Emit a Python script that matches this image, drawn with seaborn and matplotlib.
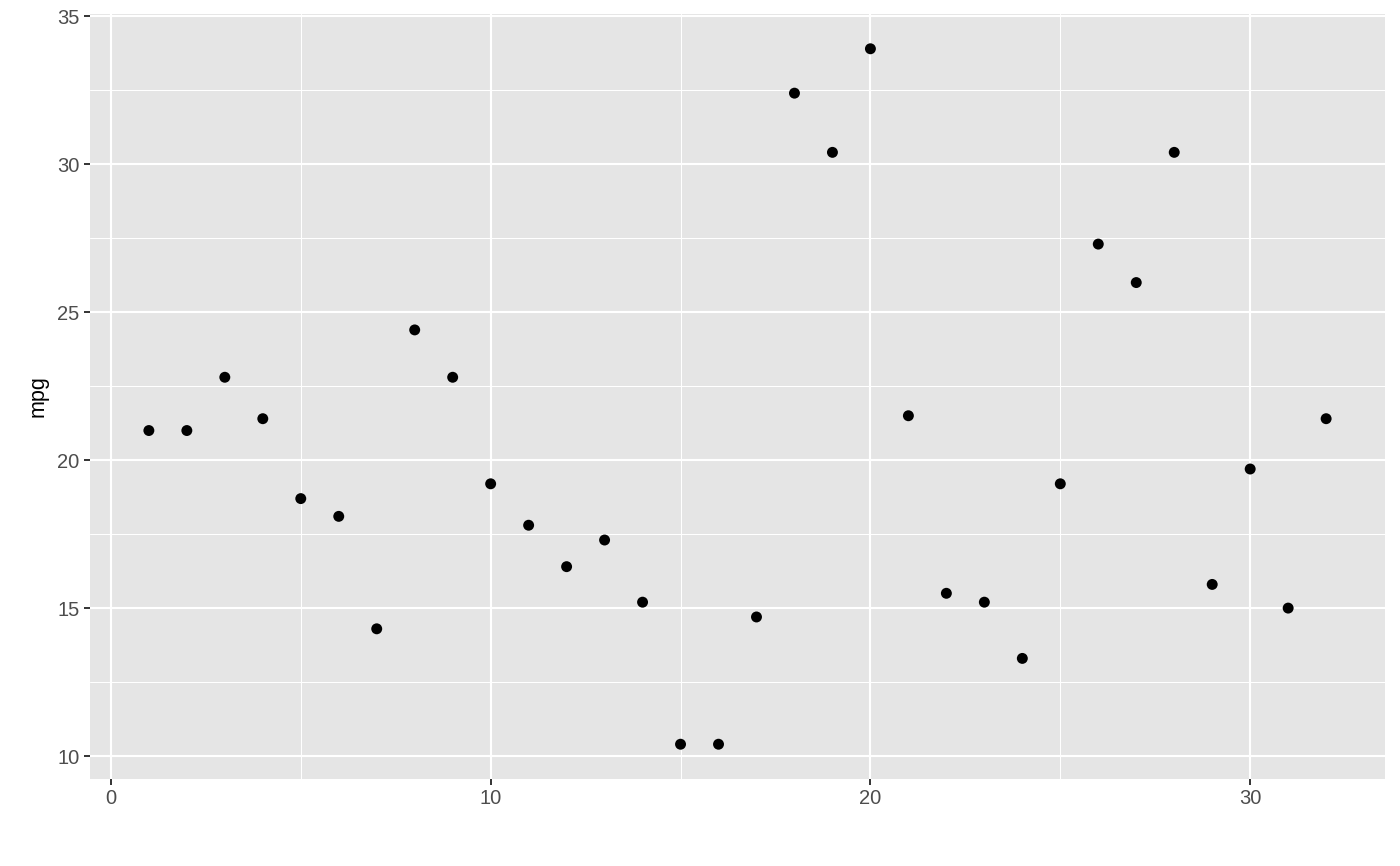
import matplotlib
matplotlib.use("Agg")
import matplotlib.pyplot as plt
from matplotlib.ticker import MultipleLocator
import seaborn as sns
import pandas as pd

# mtcars mpg, plotted against row index
idx = list(range(1, 33))
mpg = [21.0, 21.0, 22.8, 21.4, 18.7, 18.1, 14.3, 24.4, 22.8, 19.2, 17.8, 16.4,
       17.3, 15.2, 10.4, 10.4, 14.7, 32.4, 30.4, 33.9, 21.5, 15.5, 15.2, 13.3,
       19.2, 27.3, 26.0, 30.4, 15.8, 19.7, 15.0, 21.4]
df = pd.DataFrame({"idx": idx, "mpg": mpg})

sns.set_style("darkgrid", {"axes.facecolor": "#E5E5E5", "grid.color": "white"})
plt.rcParams["font.family"] = ["Liberation Sans", "DejaVu Sans"]

fig = plt.figure(figsize=(14, 8.66), dpi=100)
ax = fig.add_axes([90 / 1400, 1 - 779 / 866, 1295 / 1400, 765 / 866])

sns.scatterplot(data=df, x="idx", y="mpg", color="black", s=62,
                edgecolor="none", ax=ax, zorder=3)

ax.set_xlim(-0.55, 33.55)
ax.set_ylim(9.225, 35.075)
ax.xaxis.set_major_locator(MultipleLocator(10))
ax.yaxis.set_major_locator(MultipleLocator(5))
ax.xaxis.set_minor_locator(MultipleLocator(5))
ax.yaxis.set_minor_locator(MultipleLocator(2.5))
ax.grid(which="major", color="white", lw=1.5)
ax.grid(which="minor", color="white", lw=0.75)
ax.set_axisbelow(True)
for s in ax.spines.values():
    s.set_visible(False)

ax.tick_params(which="major", bottom=True, left=True, length=4.5, width=1.4,
               color="#333333", labelsize=14.5, labelcolor="#4D4D4D", pad=3)
ax.tick_params(which="minor", bottom=False, left=False, length=0, width=0)
ax.set_xlabel("")
ax.set_ylabel("mpg", fontsize=15.5, color="black", labelpad=6)

fig.savefig("out.png", dpi=100)
